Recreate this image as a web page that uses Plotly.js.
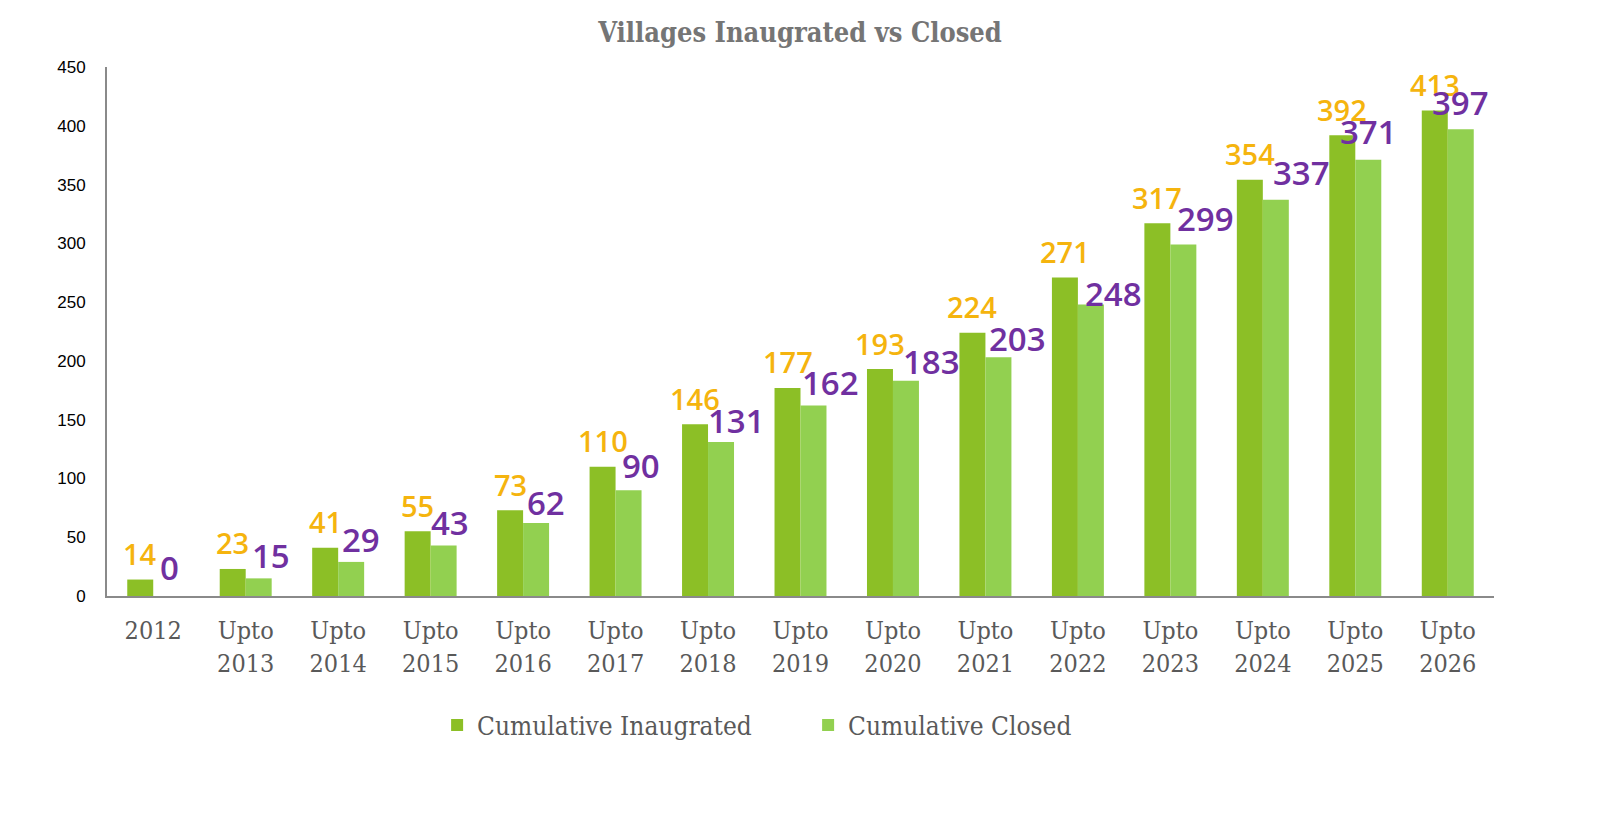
<!DOCTYPE html>
<html>
<head>
<meta charset="utf-8">
<script src="https://cdn.plot.ly/plotly-3.0.1.min.js"></script>
<style>
  html, body { margin: 0; padding: 0; background: #fff; }
  #chart { width: 1600px; height: 829px; }
</style>
</head>
<body>
<div id="chart"></div>
<script>
// categories and values
const categories = ["2012", "Upto<br>2013", "Upto<br>2014", "Upto<br>2015", "Upto<br>2016",
  "Upto<br>2017", "Upto<br>2018", "Upto<br>2019", "Upto<br>2020", "Upto<br>2021",
  "Upto<br>2022", "Upto<br>2023", "Upto<br>2024", "Upto<br>2025", "Upto<br>2026"];
const inaugurated = [14, 23, 41, 55, 73, 110, 146, 177, 193, 224, 271, 317, 354, 392, 413];
const closed = [0, 15, 29, 43, 62, 90, 131, 162, 183, 203, 248, 299, 337, 371, 397];
const yTicks = [0, 50, 100, 150, 200, 250, 300, 350, 400, 450];

// the purple labels were hand placed in the original, so nudge them a bit (px)
const closedLabelDx = [3, 12, 10, 6, 10, 12, 15, 17, 26, 19, 23, 22, 26, 0, 0];
const closedLabelDy = [29, 23, 22, 23, 21, 25, 22, 23, 19, 19, 11, 26, 27, 28, 27];

const serif = "'DejaVu Serif Condensed', 'DejaVu Serif', serif";

let traceInaug = {
  type: "bar",
  name: "Cumulative Inaugrated",
  x: categories,
  y: inaugurated,
  marker: { color: "#8cbf26" },
  hoverinfo: "x+y"
};
let traceClosed = {
  type: "bar",
  name: "Cumulative Closed",
  x: categories,
  y: closed,
  marker: { color: "#92d050" },
  hoverinfo: "x+y"
};

// value labels as annotations so they can sit where the original put them
// (x is the category index, "2012" would otherwise be read as index 2012)
let notes = [];
categories.forEach((c, i) => {
  notes.push({
    x: i, y: inaugurated[i], xref: "x", yref: "y",
    text: String(inaugurated[i]), showarrow: false,
    xshift: -13, yshift: 26, yanchor: "middle",
    font: { family: "'Open Sans', sans-serif", size: 29, weight: 600, color: "#f5b40e" }
  });
  notes.push({
    x: i, y: closed[i], xref: "x", yref: "y",
    text: String(closed[i]), showarrow: false,
    xshift: 13 + closedLabelDx[i], yshift: closedLabelDy[i], yanchor: "middle",
    font: { family: "'Open Sans', sans-serif", size: 33, weight: 600, color: "#7030a0" }
  });
});

let layout = {
  width: 1600,
  height: 829,
  paper_bgcolor: "#fff",
  plot_bgcolor: "#fff",
  margin: { l: 107, r: 106, t: 67, b: 233, pad: 0 },
  title: {
    text: "<b>Villages Inaugrated vs Closed</b>",
    xref: "container", yref: "container",
    x: 0.5, y: 0.961, xanchor: "center", yanchor: "middle",
    font: { family: serif, size: 27, color: "#757575" }
  },
  barmode: "group",
  bargap: 0.438,
  bargroupgap: 0,
  showlegend: true,
  legend: {
    orientation: "h",
    x: 0.238, xanchor: "left",
    y: -0.244, yanchor: "middle",
    entrywidth: 326, entrywidthmode: "pixels",
    font: { family: serif, size: 26, color: "#595959" }
  },
  xaxis: {
    type: "category",
    showline: true, linecolor: "#8a8a8a", linewidth: 2,
    showgrid: false, zeroline: false, ticks: "",
    ticklabelstandoff: 11,
    tickfont: { family: serif, size: 25, color: "#595959" }
  },
  yaxis: {
    range: [0, 450],
    tickvals: yTicks,
    showline: true, linecolor: "#8a8a8a", linewidth: 2,
    showgrid: false, zeroline: false, ticks: "",
    ticklabelstandoff: 16,
    tickfont: { family: "'Liberation Sans', Arial, sans-serif", size: 17, color: "#000" }
  },
  annotations: notes
};

Plotly.newPlot("chart", [traceInaug, traceClosed], layout, { displayModeBar: false });
</script>
</body>
</html>
